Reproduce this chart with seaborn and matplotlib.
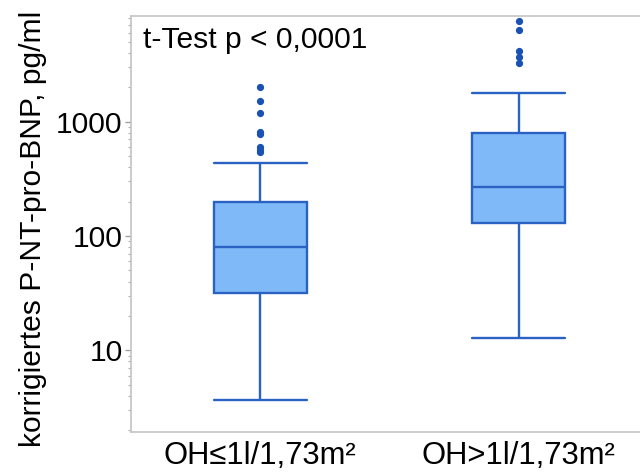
import numpy as np
import pandas as pd
import matplotlib
matplotlib.use("Agg")
import matplotlib.pyplot as plt
import seaborn as sns
from matplotlib.ticker import FixedLocator, FixedFormatter, LogLocator, NullFormatter

# ---- data ----
groups = ["OH≤1l/1,73m²", "OH>1l/1,73m²"]
low_whisker = [3.7, 12.8]
q1 = [31.5, 129.0]
median = [79.6, 270.0]
q3 = [199.5, 801.0]
high_whisker = [438.0, 1795.0]
outliers = [
    [540, 565, 600, 780, 820, 1200, 1527, 2000],
    [3240, 3660, 4180, 6340, 7660],
]
y_ticks = [10, 100, 1000]
y_tick_labels = ["10", "100", "1000"]

# build a sample per group reproducing the box statistics exactly
rows = []
for g, lo, a, m, b, hi, out in zip(groups, low_whisker, q1, median, q3, high_whisker, outliers):
    k = len(out) + 1
    vals = [lo] + [a] * k + [m] * k + [b] * k + [hi] + list(out)
    rows += [(g, v) for v in vals]
df = pd.DataFrame(rows, columns=["group", "value"])

sns.set_style("white")
plt.rcParams["font.family"] = ["Liberation Sans", "DejaVu Sans"]
plt.rcParams["text.color"] = "black"
plt.rcParams["axes.labelcolor"] = "black"
plt.rcParams["xtick.color"] = "black"
plt.rcParams["ytick.color"] = "black"

face = "#80b9f7"
edge = "#2a62c4"
dot = "#1a52b4"
spine_col = "#c4c4c4"

fig = plt.figure(figsize=(6.4, 4.72), dpi=100)
ax = fig.add_axes([131 / 640, (472 - 432.3) / 472, (648 - 131) / 640, (432.3 - 15.7) / 472])

sns.boxplot(
    data=df, x="group", y="value", order=groups, ax=ax,
    width=0.36, color=face, linecolor=edge, linewidth=1.7, saturation=1,
    fliersize=4.2,
    flierprops=dict(marker="o", markerfacecolor=dot, markeredgecolor=dot),
    capwidths=0.36,
)

ax.set_yscale("log")
ax.set_ylim(1.92, 8450)
ax.set_xlim(-0.5, 1.5)

ax.yaxis.set_major_locator(FixedLocator(y_ticks))
ax.yaxis.set_major_formatter(FixedFormatter(y_tick_labels))
ax.yaxis.set_minor_locator(LogLocator(base=10, subs=np.arange(2, 10)))
ax.yaxis.set_minor_formatter(NullFormatter())
ax.tick_params(axis="y", which="major", length=4, width=1, color="#a0a0a0",
               labelcolor="black", labelsize=21.6, pad=2, left=True)
ax.tick_params(axis="y", which="minor", length=2.5, width=0.8, color="#b0b0b0", left=True)
ax.tick_params(axis="x", length=0, labelsize=22.3, labelcolor="black", pad=6)

for s in ax.spines.values():
    s.set_color(spine_col)
    s.set_linewidth(1.2)

ax.set_xlabel("")
ax.set_ylabel("korrigiertes P-NT-pro-BNP, pg/ml", fontsize=21.6, color="black")
ax.yaxis.set_label_coords(-0.163, 0.488)

ax.text(0.023, 0.975, "t-Test p < 0,0001", transform=ax.transAxes,
        ha="left", va="top", fontsize=21.6, color="black")

fig.savefig("out.png", dpi=100)
